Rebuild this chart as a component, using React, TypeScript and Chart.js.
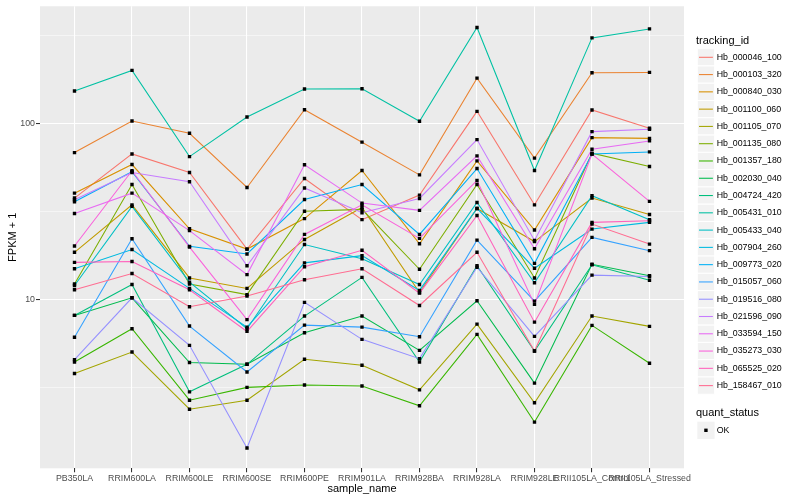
import React, { useEffect, useRef } from "react";
import { Chart, registerables } from "chart.js";

Chart.register(...registerables);

const categories = [
  "PB350LA",
  "RRIM600LA",
  "RRIM600LE",
  "RRIM600SE",
  "RRIM600PE",
  "RRIM901LA",
  "RRIM928BA",
  "RRIM928LA",
  "RRIM928LE",
  "RRII105LA_Control",
  "RRII105LA_Stressed",
];

const seriesNames = [
  "Hb_000046_100",
  "Hb_000103_320",
  "Hb_000840_030",
  "Hb_001100_060",
  "Hb_001105_070",
  "Hb_001135_080",
  "Hb_001357_180",
  "Hb_002030_040",
  "Hb_004724_420",
  "Hb_005431_010",
  "Hb_005433_040",
  "Hb_007904_260",
  "Hb_009773_020",
  "Hb_015057_060",
  "Hb_019516_080",
  "Hb_021596_090",
  "Hb_033594_150",
  "Hb_035273_030",
  "Hb_065525_020",
  "Hb_158467_010",
];

const seriesColors = [
  "#F8766D", "#EA8331", "#D89000", "#C09B00", "#A3A500",
  "#7CAE00", "#39B600", "#00BB4E", "#00BF7D", "#00C1A3",
  "#00BFC4", "#00BAE0", "#00B0F6", "#35A2FF", "#9590FF",
  "#C77CFF", "#E76BF3", "#FA62DB", "#FF62BC", "#FF6C91",
];

// FPKM + 1 values, one array per tracking_id, in category order
const hb_000046_100 = [37.8, 67.3, 52.8, 19.4, 48.8, 28.5, 39.3, 117.5, 34.6, 119.6, 94.2];
const hb_000103_320 = [68.5, 103.6, 88.2, 43.4, 120.0, 78.5, 51.2, 181.4, 63.7, 194.4, 195.4];
const hb_000840_030 = [40.3, 58.6, 25.3, 19.4, 28.9, 54.2, 20.8, 61.5, 24.9, 83.3, 82.5];
const hb_001100_060 = [18.6, 34.6, 13.3, 11.6, 22.0, 33.4, 11.0, 33.0, 21.4, 37.8, 30.5];
const hb_001105_070 = [3.81, 5.05, 2.39, 2.69, 4.59, 4.25, 3.08, 7.27, 2.6, 8.08, 7.06];
const hb_001135_080 = [12.3, 45.1, 12.3, 10.7, 31.8, 32.6, 14.9, 45.1, 13.3, 68.0, 57.1];
const hb_001357_180 = [4.43, 6.85, 2.69, 3.18, 3.28, 3.24, 2.5, 6.36, 2.02, 7.15, 4.36];
const hb_002030_040 = [8.15, 10.26, 4.4, 4.3, 6.5, 8.08, 5.16, 9.87, 3.36, 15.9, 13.7];
const hb_004724_420 = [8.15, 12.2, 3.0, 4.3, 8.08, 13.4, 4.43, 15.6, 5.12, 15.8, 12.9];
const hb_005431_010 = [153.2, 200.6, 65.0, 109.1, 157.2, 157.8, 103.2, 351.5, 54.2, 306.9, 345.1];
const hb_005433_040 = [12.05, 33.9, 12.6, 6.85, 20.6, 17.1, 12.2, 35.7, 12.5, 39.0, 28.5];
const hb_007904_260 = [15.0, 19.3, 11.6, 6.99, 16.2, 17.8, 11.3, 33.0, 15.1, 25.2, 27.5];
const hb_009773_020 = [36.0, 53.3, 20.1, 18.2, 37.1, 45.1, 23.5, 55.6, 16.1, 67.3, 69.1];
const hb_015057_060 = [6.12, 22.2, 7.09, 3.89, 7.18, 6.99, 6.17, 21.8, 9.82, 22.6, 19.0];
const hb_019516_080 = [4.57, 10.26, 5.51, 1.44, 9.66, 5.96, 4.63, 15.3, 6.2, 13.8, 13.55];
const hb_021596_090 = [37.0, 52.8, 46.8, 15.6, 43.1, 31.2, 37.6, 81.2, 21.7, 90.1, 93.0];
const hb_033594_150 = [30.9, 40.3, 24.7, 13.9, 58.4, 35.4, 32.2, 65.6, 19.5, 71.6, 79.8];
const hb_035273_030 = [20.2, 54.0, 19.9, 7.71, 23.5, 34.6, 22.3, 47.6, 9.41, 67.1, 36.2];
const hb_065525_020 = [16.3, 16.5, 11.4, 6.61, 15.4, 19.1, 10.9, 30.1, 7.46, 27.5, 28.1];
const hb_158467_010 = [11.4, 14.1, 9.13, 10.5, 13.0, 15.0, 9.28, 18.6, 5.12, 26.9, 20.7];

const seriesValues = [
  hb_000046_100, hb_000103_320, hb_000840_030, hb_001100_060, hb_001105_070,
  hb_001135_080, hb_001357_180, hb_002030_040, hb_004724_420, hb_005431_010,
  hb_005433_040, hb_007904_260, hb_009773_020, hb_015057_060, hb_019516_080,
  hb_021596_090, hb_033594_150, hb_035273_030, hb_065525_020, hb_158467_010,
];

const yMajorTicks = [10, 100];
const yMinorTicks = [3.1623, 31.623, 316.23];
const quantStatus = ["OK"];

const FONT = "'Liberation Sans', Arial, Helvetica, sans-serif";

export default function App() {
  const ref = useRef<HTMLCanvasElement>(null);

  useEffect(() => {
    document.body.style.margin = "0";
    const canvas = ref.current;
    if (!canvas) return;

    const panelBg = {
      id: "panelBg",
      beforeDraw(chart: any) {
        const { ctx, chartArea: a } = chart;
        ctx.save();
        ctx.fillStyle = "#EBEBEB";
        ctx.fillRect(a.left, a.top, a.right - a.left, a.bottom - a.top);
        ctx.restore();
      },
    };

    const ggLegend = {
      id: "ggLegend",
      afterDraw(chart: any) {
        const ctx = chart.ctx as CanvasRenderingContext2D;
        const a = chart.chartArea;
        const x0 = a.right + 13.3;
        const key = 17.28;
        ctx.save();
        ctx.textAlign = "left";
        ctx.textBaseline = "middle";
        ctx.fillStyle = "#000000";
        ctx.font = `11px ${FONT}`;
        ctx.fillText("tracking_id", x0 - 1.3, 40.7);
        seriesNames.forEach((name, i) => {
          const yc = 57.3 + i * key;
          ctx.fillStyle = "#F2F2F2";
          ctx.fillRect(x0, yc - key / 2, key, key);
          ctx.strokeStyle = "#FFFFFF";
          ctx.lineWidth = 1;
          ctx.strokeRect(x0, yc - key / 2, key, key);
          ctx.strokeStyle = seriesColors[i];
          ctx.lineWidth = 1.07;
          ctx.beginPath();
          ctx.moveTo(x0 + 1.7, yc);
          ctx.lineTo(x0 + key - 1.7, yc);
          ctx.stroke();
          ctx.fillStyle = "#000000";
          ctx.font = `8.8px ${FONT}`;
          ctx.fillText(name, x0 + 19.4, yc);
        });
        ctx.font = `11px ${FONT}`;
        ctx.fillStyle = "#000000";
        ctx.fillText("quant_status", x0 - 1.3, 413);
        quantStatus.forEach((q, i) => {
          const yc = 430.3 + i * key;
          ctx.fillStyle = "#F2F2F2";
          ctx.fillRect(x0, yc - key / 2, key, key);
          ctx.fillStyle = "#000000";
          ctx.fillRect(x0 + key / 2 - 1.7, yc - 1.7, 3.4, 3.4);
          ctx.font = `8.8px ${FONT}`;
          ctx.fillText(q, x0 + 19.4, yc);
        });
        ctx.restore();
      },
    };

    const lineSets = seriesValues.map((vals, idx) => ({
      label: seriesNames[idx],
      data: vals.map((v, i) => ({ x: i, y: v })),
      borderColor: seriesColors[idx],
      backgroundColor: seriesColors[idx],
      borderWidth: 1.07,
      pointRadius: 0,
      tension: 0,
      fill: false,
      order: -idx,
    }));

    const pointSet = {
      label: "quant_status",
      data: seriesValues.flatMap((vals) => vals.map((v, i) => ({ x: i, y: v }))),
      showLine: false,
      pointStyle: "rect",
      pointRadius: 2.4,
      pointBackgroundColor: "#000000",
      pointBorderWidth: 0,
      borderColor: "#000000",
      order: -100,
    };

    const isMajor = (v: number) => yMajorTicks.some((m) => Math.abs(m - v) < 1e-6);

    const chart = new Chart(canvas, {
      type: "line",
      data: { datasets: [...lineSets, pointSet] as any },
      options: {
        responsive: false,
        animation: false,
        layout: { padding: { top: 5, right: 116, left: 0, bottom: 0 } },
        plugins: { legend: { display: false }, tooltip: { enabled: false } },
        scales: {
          x: {
            type: "linear",
            min: -0.6,
            max: 10.6,
            afterBuildTicks: (s: any) => {
              s.ticks = categories.map((_, i) => ({ value: i }));
            },
            afterFit: (s: any) => {
              s.height = 31.7;
            },
            grid: {
              color: "#FFFFFF",
              lineWidth: 1.07,
              tickColor: "#333333",
              tickLength: 4,
              tickWidth: 1.07,
            },
            border: { display: false },
            ticks: {
              autoSkip: false,
              maxRotation: 0,
              minRotation: 0,
              padding: 1,
              color: "#4D4D4D",
              font: { family: FONT, size: 8.8 },
              callback: (v: any) => categories[v as number] ?? "",
            },
            title: {
              display: true,
              text: "sample_name",
              color: "#000000",
              font: { family: FONT, size: 11 },
              padding: { top: 4, bottom: 4 },
            },
          },
          y: {
            type: "logarithmic",
            min: 1.104,
            max: 464,
            afterBuildTicks: (s: any) => {
              s.ticks = [...yMinorTicks, ...yMajorTicks]
                .sort((p, q) => p - q)
                .map((v) => ({ value: v }));
            },
            afterFit: (s: any) => {
              s.width = 40;
            },
            grid: {
              color: "#FFFFFF",
              lineWidth: (c: any) => (c.tick && isMajor(c.tick.value) ? 1.07 : 0.53),
              tickColor: (c: any) => (c.tick && isMajor(c.tick.value) ? "#333333" : "rgba(0,0,0,0)"),
              tickLength: 4,
              tickWidth: 1.07,
            },
            border: { display: false },
            ticks: {
              autoSkip: false,
              padding: 1,
              color: "#4D4D4D",
              font: { family: FONT, size: 8.8 },
              callback: (v: any) => (isMajor(Number(v)) ? String(Math.round(Number(v))) : ""),
            },
            title: {
              display: true,
              text: "FPKM + 1",
              color: "#000000",
              font: { family: FONT, size: 11 },
              padding: { top: 6, bottom: 4 },
            },
          },
        },
      } as any,
      plugins: [panelBg, ggLegend],
    });

    return () => chart.destroy();
  }, []);

  return (
    <div style={{ width: 800, height: 500 }}>
      <canvas ref={ref} width={800} height={500} />
    </div>
  );
}
